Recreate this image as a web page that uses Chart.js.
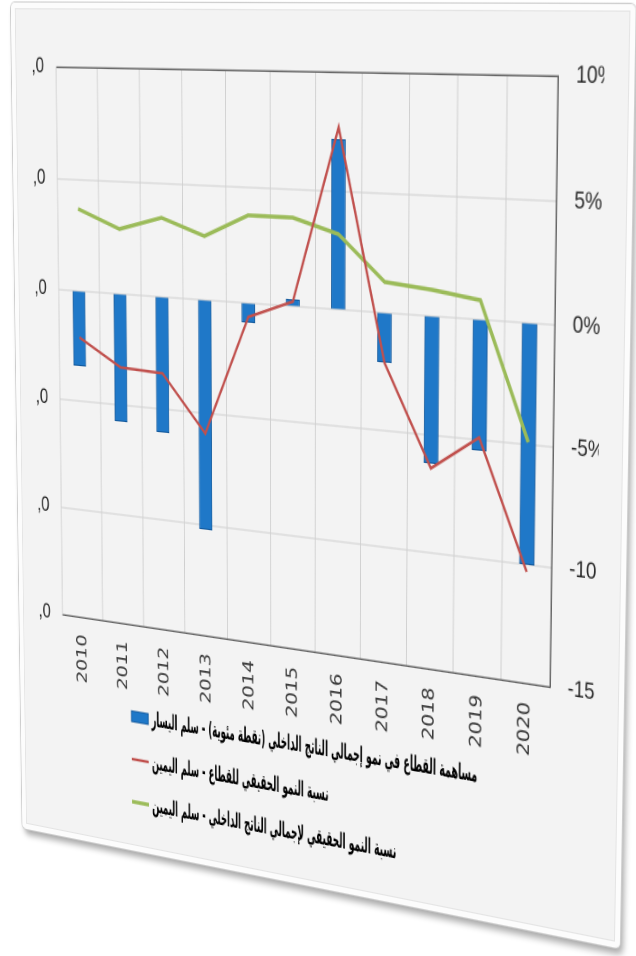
<!DOCTYPE html>
<html>
<head>
<meta charset="utf-8">
<script src="https://cdn.jsdelivr.net/npm/chart.js@4.4.1/dist/chart.umd.min.js"></script>
<style>
  html, body { margin: 0; padding: 0; background: #ffffff; width: 636px; height: 956px; overflow: hidden; }
  #card {
    position: absolute; left: 0; top: 0; width: 691px; height: 768px;
    background: #f3f3f3; border-radius: 5px; transform-origin: 0 0;
    box-shadow: inset 0 0 0 5px #fcfcfc, inset 0 0 0 6px #e4e4e4, 0 0 0 1px #cdcdcd, 3px 5px 6px rgba(0,0,0,0.35);
  }
  #clip { position: absolute; top: 0; height: 768px; overflow: hidden; }
  #clip canvas { position: absolute; top: 0; }
</style>
</head>
<body>
<div id="card"><div id="clip"><canvas id="chart" width="665" height="768"></canvas></div></div>
<script>
// Years on the category axis
const years = ['2010', '2011', '2012', '2013', '2014', '2015', '2016', '2017', '2018', '2019', '2020'];

// Sector contribution to GDP growth, percentage points (left scale)
const sectorContribution = [-0.68, -1.15, -1.21, -2.04, -0.17, 0.06, 1.44, -0.42, -1.24, -1.09, -2.00];
// Real growth rate of the sector, % (right scale)
const sectorGrowth = [-2.1, -3.3, -3.4, -5.9, -0.6, 0.2, 7.7, -2.1, -6.4, -4.9, -10.3];
// Real GDP growth rate, % (right scale)
const gdpGrowth = [3.7, 2.9, 3.5, 2.8, 3.8, 3.8, 3.2, 1.3, 1.1, 0.8, -4.9];

// Axis tick labels, bottom to top
const leftTickLabels = ['-3,0', '-2,0', '-1,0', '0,0', '1,0', '2,0'];
const rightTickLabels = ['-15%', '-10%', '-5%', '0%', '5%', '10%'];

// Series names
const seriesNames = [
  'مساهمة القطاع في نمو إجمالي الناتج الداخلي (نقطة مئوية) - سلم اليسار',
  'نسبة النمو الحقيقي للقطاع - سلم اليمين',
  'نسبة النمو الحقيقي لإجمالي الناتج الداخلي - سلم اليمين'
];

const AXIS_FAMILY = "'Liberation Sans Narrow', 'Liberation Sans', sans-serif";
const AXIS_SIZE = 19;
const LEFT_PAD = 15;
const RIGHT_PAD = 18;
const GRID = '#cfcfcf';
const FRAME = '#666666';

// Legend drawn as one entry per row under the plot
const legendRows = {
  id: 'legendRows',
  afterDraw(chart) {
    const { ctx, chartArea: ca } = chart;
    const font = "bold 19px 'DejaVu Sans', sans-serif";
    ctx.save();
    ctx.font = font;
    ctx.direction = 'rtl';
    const squeeze = Math.min(1, 374 / ctx.measureText(chart.data.datasets[0].label).width);
    chart.data.datasets.forEach((ds, i) => {
      const y = ca.bottom + 85 + i * 40;
      const x0 = ca.left + 86;
      if (ds.type === 'bar') {
        ctx.fillStyle = ds.backgroundColor;
        ctx.fillRect(x0, y - 5, 21, 10);
        ctx.strokeStyle = ds.borderColor;
        ctx.lineWidth = 1;
        ctx.strokeRect(x0, y - 5, 21, 10);
      } else {
        ctx.strokeStyle = ds.borderColor;
        ctx.lineWidth = ds.borderWidth;
        ctx.beginPath();
        ctx.moveTo(x0, y);
        ctx.lineTo(x0 + 21, y);
        ctx.stroke();
      }
      ctx.save();
      ctx.translate(x0 + 25, y + 1);
      ctx.scale(squeeze, 1);
      ctx.font = font;
      ctx.direction = 'rtl';
      ctx.textAlign = 'left';
      ctx.textBaseline = 'middle';
      ctx.fillStyle = '#000000';
      ctx.fillText(ds.label, 0, 0);
      ctx.restore();
    });
    ctx.restore();
  }
};

const topLine = (c) => c.tick && c.tick.value === 2;

const chart = new Chart(document.getElementById('chart'), {
  data: {
    labels: years,
    datasets: [
      { type: 'bar', label: seriesNames[0], data: sectorContribution, yAxisID: 'y',
        backgroundColor: '#1f78c8', borderColor: '#13599c', borderWidth: 1,
        barPercentage: 0.31, categoryPercentage: 1, order: 3 },
      { type: 'line', label: seriesNames[1], data: sectorGrowth, yAxisID: 'y1',
        borderColor: '#c0504d', borderWidth: 2.5, pointRadius: 0, tension: 0, order: 1 },
      { type: 'line', label: seriesNames[2], data: gdpGrowth, yAxisID: 'y1',
        borderColor: '#9bbb59', borderWidth: 3.5, pointRadius: 0, tension: 0, order: 2 }
    ]
  },
  options: {
    responsive: false,
    animation: false,
    devicePixelRatio: 2,
    layout: { padding: { top: 57, bottom: 141, left: 0, right: 0 } },
    plugins: { legend: { display: false }, tooltip: { enabled: false } },
    scales: {
      x: {
        type: 'category',
        offset: true,
        grid: { offset: true, color: GRID, lineWidth: 1, drawTicks: false },
        border: { display: true, color: FRAME, width: 1.5, z: 1 },
        ticks: { minRotation: 90, maxRotation: 90, padding: 16, color: '#3a3a3a',
                 font: { family: "'DejaVu Sans', sans-serif", size: 18 } },
        afterFit: (s) => { s.height = 70; }
      },
      y: {
        position: 'left', min: -3, max: 2,
        ticks: { stepSize: 1, padding: LEFT_PAD, color: '#2a2a2a',
                 font: { family: AXIS_FAMILY, size: AXIS_SIZE },
                 callback: (v, i) => leftTickLabels[i] },
        grid: { color: (c) => topLine(c) ? FRAME : GRID, lineWidth: (c) => topLine(c) ? 1.5 : 1, drawTicks: false },
        border: { display: true, color: GRID, width: 1, z: 1 },
        afterFit: (s) => { s.width = 56; }
      },
      y1: {
        position: 'right', min: -15, max: 10,
        ticks: { stepSize: 5, padding: RIGHT_PAD, color: '#2a2a2a',
                 font: { family: AXIS_FAMILY, size: AXIS_SIZE },
                 callback: (v, i) => rightTickLabels[i] },
        grid: { display: false, drawTicks: false },
        border: { display: true, color: FRAME, width: 1.5, z: 1 },
        afterFit: (s) => { s.width = 49; }
      }
    }
  },
  plugins: [legendRows]
});

// Frame the picture: trim the tick labels at the edges of the inner image
const ca = chart.chartArea;
const mctx = chart.ctx;
mctx.save();
mctx.font = AXIS_SIZE + 'px ' + AXIS_FAMILY;
const clipLeft = ca.left - LEFT_PAD - mctx.measureText(',0').width - 0.5;
const clipRight = ca.right + RIGHT_PAD + mctx.measureText('5%').width + 0.5;
mctx.restore();
const clip = document.getElementById('clip');
clip.style.left = clipLeft + 'px';
clip.style.width = (clipRight - clipLeft) + 'px';
document.getElementById('chart').style.left = (-clipLeft) + 'px';

// Tilt the card: projective map of the plot rectangle onto a leaning quadrilateral
function homography(src, dst) {
  const A = [], B = [];
  for (let i = 0; i < 4; i++) {
    const [x, y] = src[i], [X, Y] = dst[i];
    A.push([x, y, 1, 0, 0, 0, -x * X, -y * X]); B.push(X);
    A.push([0, 0, 0, x, y, 1, -x * Y, -y * Y]); B.push(Y);
  }
  const n = 8;
  for (let c = 0; c < n; c++) {
    let p = c;
    for (let r = c + 1; r < n; r++) if (Math.abs(A[r][c]) > Math.abs(A[p][c])) p = r;
    [A[c], A[p]] = [A[p], A[c]];
    [B[c], B[p]] = [B[p], B[c]];
    for (let r = 0; r < n; r++) {
      if (r === c) continue;
      const f = A[r][c] / A[c][c];
      for (let k = c; k < n; k++) A[r][k] -= f * A[c][k];
      B[r] -= f * B[c];
    }
  }
  return B.map((b, i) => b / A[i][i]);
}
const flatCorners = [[ca.left, ca.top], [ca.right, ca.top], [ca.right, ca.bottom], [ca.left, ca.bottom]];
const tiltedCorners = [[56, 67], [558, 76], [550, 687], [62.5, 614.5]];
const [a, b, c, d, e, f, g, h] = homography(flatCorners, tiltedCorners);
document.getElementById('card').style.transform =
  `matrix3d(${a},${d},0,${g},${b},${e},0,${h},0,0,1,0,${c},${f},0,1)`;
</script>
</body>
</html>
